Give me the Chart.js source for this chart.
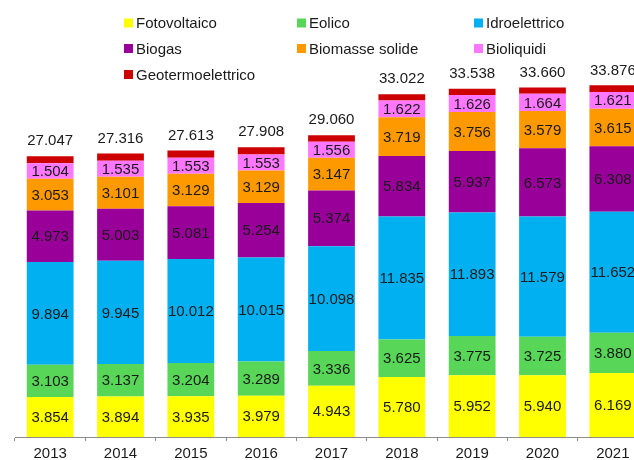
<!DOCTYPE html>
<html lang="it">
<head>
<meta charset="utf-8">
<title>Potenza efficiente lorda da fonti rinnovabili</title>
<script src="https://cdn.jsdelivr.net/npm/chart.js@4.4.1/dist/chart.umd.min.js"></script>
<style>
    html, body { margin: 0; padding: 0; background: #fff; overflow: hidden; }
    #wrap { width: 660px; height: 460px; }
</style>
</head>
<body>
<div id="wrap"><canvas id="fontiChart" width="660" height="460"></canvas></div>
<script>
// ─── Dati (MW) ───
const anni = ['2013', '2014', '2015', '2016', '2017', '2018', '2019', '2020', '2021'];

const fotovoltaico   = [3854, 3894, 3935, 3979, 4943, 5780, 5952, 5940, 6169];
const eolico         = [3103, 3137, 3204, 3289, 3336, 3625, 3775, 3725, 3880];
const idroelettrico  = [9894, 9945, 10012, 10015, 10098, 11835, 11893, 11579, 11652];
const biogas         = [4973, 5003, 5081, 5254, 5374, 5834, 5937, 6573, 6308];
const biomasse       = [3053, 3101, 3129, 3129, 3147, 3719, 3756, 3579, 3615];
const bioliquidi     = [1504, 1535, 1553, 1553, 1556, 1622, 1626, 1664, 1621];
const geotermo       = [666, 701, 699, 689, 606, 607, 599, 600, 631];

const FONT = "'Liberation Sans', Arial, sans-serif";
const fmt = v => String(v).replace(/\B(?=(\d{3})+(?!\d))/g, '.');

const serie = [
    { label: 'Fotovoltaico',      data: fotovoltaico,  color: '#FFFF00', showVal: true },
    { label: 'Eolico',            data: eolico,        color: '#57D657', showVal: true },
    { label: 'Idroelettrico',     data: idroelettrico, color: '#00B0F0', showVal: true },
    { label: 'Biogas',            data: biogas,        color: '#990099', showVal: true },
    { label: 'Biomasse solide',   data: biomasse,      color: '#FF9900', showVal: true },
    { label: 'Bioliquidi',        data: bioliquidi,    color: '#FF77FF', showVal: true },
    { label: 'Geotermoelettrico', data: geotermo,      color: '#CC0000', showVal: false }
];

// ─── etichette dentro i segmenti + totale sopra la colonna ───
const etichette = {
    id: 'etichette',
    afterDatasetsDraw(chart) {
        const { ctx } = chart;
        ctx.save();
        ctx.font = `15px ${FONT}`;
        ctx.fillStyle = '#1a1a1a';
        ctx.textAlign = 'center';
        ctx.textBaseline = 'middle';
        chart.data.datasets.forEach((ds, i) => {
            if (!serie[i].showVal) return;
            chart.getDatasetMeta(i).data.forEach((bar, j) => {
                const { x, y, base } = bar.getProps(['x', 'y', 'base'], true);
                ctx.fillText(fmt(ds.data[j]), x, (y + base) / 2 + 1);
            });
        });
        const last = chart.getDatasetMeta(chart.data.datasets.length - 1);
        last.data.forEach((bar, j) => {
            const tot = chart.data.datasets.reduce((s, ds) => s + ds.data[j], 0);
            ctx.fillText(fmt(tot), bar.x, bar.y - 15);
        });
        ctx.restore();
    }
};

// ─── legenda su tre colonne ───
const legenda = {
    id: 'legenda',
    afterDraw(chart) {
        const { ctx } = chart;
        const colX = [124, 297, 474];
        const rowY = [23, 48.5, 74.5];
        ctx.save();
        ctx.font = `15px ${FONT}`;
        ctx.textBaseline = 'middle';
        ctx.textAlign = 'left';
        chart.data.datasets.forEach((ds, i) => {
            const x = colX[i % 3], y = rowY[Math.floor(i / 3)];
            ctx.fillStyle = ds.backgroundColor;
            ctx.fillRect(x, y - 4.5, 9, 9);
            ctx.fillStyle = '#1a1a1a';
            ctx.fillText(ds.label, x + 12, y + 1);
        });
        ctx.restore();
    }
};

new Chart(document.getElementById('fontiChart').getContext('2d'), {
    type: 'bar',
    data: {
        labels: anni,
        datasets: serie.map(s => ({
            label: s.label,
            data: s.data,
            backgroundColor: s.color,
            borderWidth: 0,
            barPercentage: 1,
            categoryPercentage: 0.665
        }))
    },
    options: {
        responsive: false,
        devicePixelRatio: 1,
        animation: false,
        layout: { padding: { left: 15, right: 12, top: 0, bottom: 0 } },
        scales: {
            x: {
                stacked: true,
                afterFit: scale => { scale.height = 23; },
                border: { display: true, color: '#8c8c8c', width: 1 },
                grid: {
                    offset: true,
                    drawOnChartArea: false,
                    drawTicks: true,
                    tickLength: 4,
                    color: '#8c8c8c'
                },
                ticks: {
                    color: '#1a1a1a',
                    padding: 4,
                    maxRotation: 0,
                    font: { family: FONT, size: 15 }
                }
            },
            y: {
                stacked: true,
                display: false,
                min: 0,
                max: 42100
            }
        },
        plugins: {
            legend: { display: false },
            tooltip: { enabled: false }
        }
    },
    plugins: [etichette, legenda]
});
</script>
</body>
</html>
